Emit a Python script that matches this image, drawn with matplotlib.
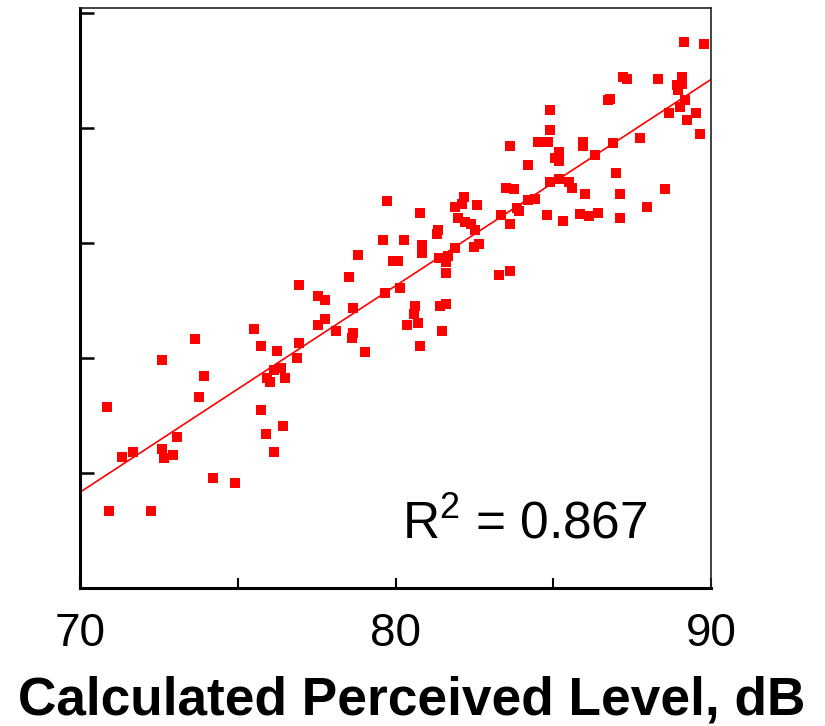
import numpy as np
import matplotlib
matplotlib.use("Agg")
import matplotlib.pyplot as plt

plt.rcParams['font.family'] = ['Liberation Sans', 'DejaVu Sans']
plt.rcParams['mathtext.fontset'] = 'custom'
plt.rcParams['mathtext.rm'] = 'Liberation Sans'
plt.rcParams['mathtext.it'] = 'Liberation Sans'
plt.rcParams['mathtext.bf'] = 'Liberation Sans:bold'

# Calculated perceived level (dB)
calc_level = [
    70.86, 70.92, 71.33, 71.68, 72.25, 72.60, 72.60, 72.66, 72.95, 73.07,
    73.65, 73.77, 73.93, 74.22, 74.91, 75.52, 75.74, 75.74, 75.90, 75.93,
    76.02, 76.15, 76.15, 76.24, 76.37, 76.43, 76.50, 76.88, 76.94, 76.94,
    77.54, 77.77, 77.54, 77.77, 78.11, 78.53, 78.62, 78.65, 78.65, 78.81,
    79.03, 79.67, 79.73, 79.60, 79.92, 80.08, 80.14, 80.27, 80.36, 80.62,
    80.59, 80.71, 80.78, 80.78, 80.84, 80.84, 81.35, 81.32, 81.38, 81.66,
    81.60, 81.60, 81.41, 81.60, 81.47, 81.89, 81.89, 82.11, 82.17, 82.58,
    81.98, 82.20, 82.39, 82.52, 82.65, 82.49, 83.28, 83.63, 83.34, 83.63,
    83.50, 83.76, 83.85, 83.91, 84.20, 84.42, 84.20, 83.63, 84.52, 84.83,
    84.90, 84.90, 84.80, 84.90, 85.18, 85.18, 85.06, 85.18, 85.31, 85.50,
    85.59, 85.94, 85.94, 86.01, 85.85, 86.13, 86.42, 86.32, 86.74, 86.80,
    86.89, 86.99, 87.12, 87.12, 87.21, 87.34, 87.75, 87.97, 88.32, 88.54,
    88.67, 88.92, 89.08, 88.95, 89.08, 89.18, 89.02, 89.24, 89.52, 89.65,
    89.14, 89.78,
]

# Measured level (unlabelled axis, arbitrary dB units)
meas_level = [
    72.88, 68.33, 70.67, 70.93, 68.33, 74.91, 71.06, 70.63, 70.80, 71.54,
    75.82, 73.31, 74.22, 69.76, 69.55, 76.26, 75.52, 72.75, 71.71, 74.13,
    73.96, 74.48, 70.93, 75.30, 74.57, 72.06, 74.13, 75.00, 75.65, 78.16,
    77.68, 77.51, 76.43, 76.69, 76.17, 78.51, 75.87, 76.08, 77.16, 79.46,
    75.26, 77.81, 81.80, 80.11, 79.20, 79.20, 78.03, 80.11, 76.43, 77.25,
    76.90, 76.52, 75.52, 81.28, 79.89, 79.55, 80.54, 80.37, 79.33, 79.42,
    79.16, 78.68, 77.25, 77.34, 76.17, 79.76, 81.54, 81.67, 81.97, 81.62,
    81.06, 80.89, 80.80, 80.54, 79.94, 79.81, 78.59, 78.77, 81.19, 80.80,
    82.40, 82.32, 81.49, 81.36, 81.84, 81.88, 83.40, 84.22, 84.39, 84.39,
    85.78, 84.91, 81.19, 82.66, 82.79, 83.96, 83.70, 83.57, 80.93, 82.66,
    82.40, 84.39, 84.22, 82.14, 81.23, 81.15, 81.28, 83.83, 86.21, 86.26,
    84.35, 83.01, 82.14, 81.06, 87.21, 87.12, 84.57, 81.54, 87.12, 82.32,
    85.65, 86.86, 87.21, 86.65, 86.90, 86.21, 85.91, 85.35, 85.65, 84.74,
    88.72, 88.64,
]

x_ticks = [70, 75, 80, 85, 90]
x_tick_labels = ['70', '', '80', '', '90']
y_ticks = [70, 75, 80, 85, 90]
r2_text = r'R$^2$ = 0.867'
x_label = 'Calculated Perceived Level, dB'

x = np.array(calc_level)
y = np.array(meas_level)

fig = plt.figure(figsize=(8.25, 7.26), dpi=100)
ax = fig.add_axes([80/825, 1 - 588/726, 631/825, 580/726])

ax.scatter(x, y, marker='s', s=52, color='#ff0000', linewidths=0, zorder=3, clip_on=False)

slope, intercept = np.polyfit(x, y, 1)
xl = np.array([70, 90])
ax.plot(xl, slope * xl + intercept, color='#ff0000', lw=1.2, zorder=2)

ax.set_xlim(70, 90)
ax.set_ylim(65, 90.2)
ax.set_xticks(x_ticks)
ax.set_xticklabels(x_tick_labels)
ax.set_yticks(y_ticks)
ax.set_yticklabels([])

ax.tick_params(axis='x', direction='in', length=7.5, width=1.5, labelsize=33, pad=17, colors='black')
ax.tick_params(axis='y', direction='in', length=10, width=1.8)

for side in ['left', 'bottom']:
    ax.spines[side].set_linewidth(2.2)
    ax.spines[side].set_color('black')
for side in ['top', 'right']:
    ax.spines[side].set_linewidth(1.2)
    ax.spines[side].set_color('#222222')

ax.set_xlabel(x_label, fontsize=38.3, fontweight='bold', labelpad=14)
ax.xaxis.label.set_x((412 - 80) / 631)

ax.text(80.21, 67.16, r2_text, fontsize=37, ha='left', va='baseline')

fig.savefig('out.png', dpi=100)
